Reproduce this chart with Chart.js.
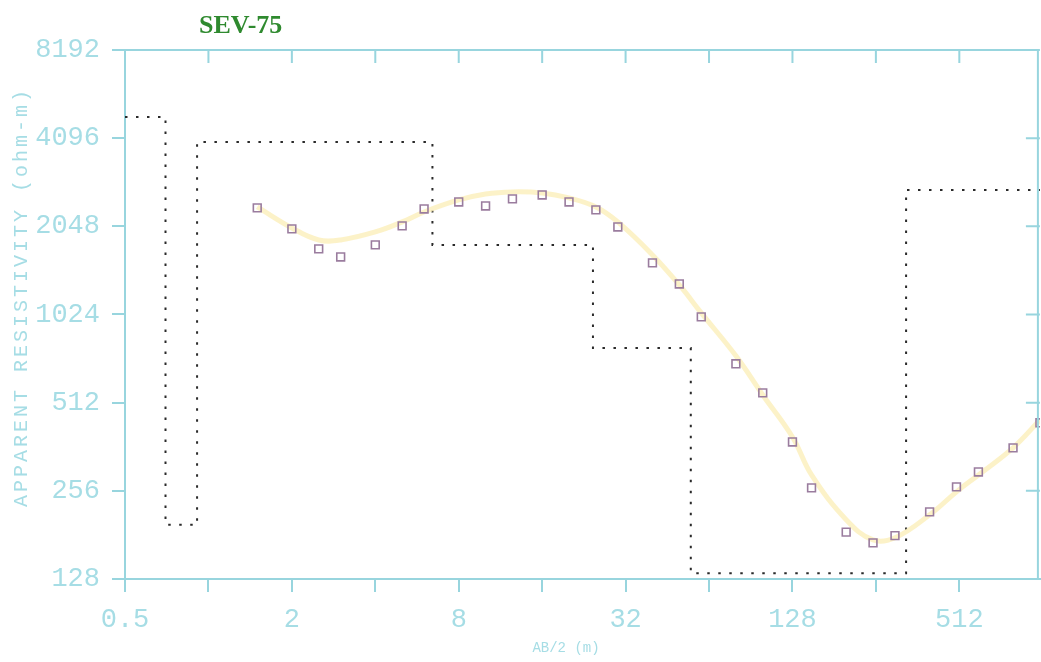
<!DOCTYPE html>
<html>
<head>
<meta charset="utf-8">
<title>SEV-75</title>
<script src="https://cdn.jsdelivr.net/npm/chart.js@4/dist/chart.umd.min.js"></script>
<style>
  html, body { margin: 0; padding: 0; background: #ffffff; overflow: hidden; }
  #wrap { width: 1047px; height: 662px; position: relative; }
  #c { display: block; }
</style>
</head>
<body>
<div id="wrap"><canvas id="c"></canvas></div>
<script>
// Electrode half-spacing AB/2 (m) of each sounding reading
const spacing = [1.5, 2, 2.5, 3, 4, 5, 6, 8, 10, 12.5, 16, 20, 25, 30, 40, 50, 60, 80, 100, 128, 150, 200, 250, 300, 400, 500, 600, 800, 1000];
// Field apparent resistivity (ohm-m)
const measured = [2367, 2007, 1715, 1610, 1770, 2055, 2348, 2481, 2404, 2541, 2621, 2481, 2330, 2038, 1536, 1302, 1005, 695, 553, 376, 262, 185, 170, 180, 217, 264, 297, 359, 437];
// Apparent resistivity computed from the layered model
const fitted = [2385, 2022, 1840, 1840, 1960, 2120, 2293, 2520, 2641, 2684, 2663, 2560, 2385, 2120, 1636, 1292, 1037, 740, 544, 391, 290, 204, 174, 177, 212, 254, 290, 359, 447];
// Layered model: top of each layer (m) and its true resistivity (ohm-m)
const layerTop = [0.5, 0.70, 0.91, 6.43, 24.4, 55, 329, 1000];
const layerRho = [4837, 196, 3974, 1770, 787, 134, 2727, 2727];

// Axis ticks (one per octave) and the labels shown
const xTicks = [0.5, 1, 2, 4, 8, 16, 32, 64, 128, 256, 512];
const xLabels = ['0.5', '2', '8', '32', '128', '512'];
const yTicks = [128, 256, 512, 1024, 2048, 4096, 8192];

const AXIS = '#98d5de';
const LABEL = '#a6dde5';
const MONO = '"Liberation Mono", "DejaVu Sans Mono", monospace';

// Closed frame with inward ticks on the top and right sides, plus titles
const framePlugin = {
  id: 'frame',
  afterDraw(chart) {
    const { ctx, chartArea: a, scales } = chart;
    ctx.save();
    ctx.strokeStyle = AXIS;
    ctx.lineWidth = 2;
    ctx.beginPath();
    ctx.moveTo(a.left, a.top); ctx.lineTo(a.right, a.top);
    ctx.moveTo(a.right - 2, a.top); ctx.lineTo(a.right - 2, a.bottom);
    scales.x.ticks.forEach(t => {
      const px = scales.x.getPixelForValue(t.value);
      ctx.moveTo(px, a.top); ctx.lineTo(px, a.top + 13);
    });
    scales.y.ticks.forEach(t => {
      const py = scales.y.getPixelForValue(t.value);
      ctx.moveTo(a.right, py); ctx.lineTo(a.right - 14, py);
    });
    ctx.stroke();

    // Sounding name
    ctx.fillStyle = '#2f8a2f';
    ctx.font = 'bold 26px "Liberation Serif", "DejaVu Serif", serif';
    ctx.textAlign = 'left';
    ctx.textBaseline = 'alphabetic';
    ctx.fillText('SEV-75', 199, 33);

    // Axis titles
    ctx.fillStyle = LABEL;
    ctx.font = '20px ' + MONO;
    ctx.textAlign = 'center';
    ctx.textBaseline = 'middle';
    ctx.save();
    ctx.translate(22, 297);
    ctx.rotate(-Math.PI / 2);
    ctx.letterSpacing = '3px';
    ctx.fillText('APPARENT RESISTIVITY (ohm-m)', 0, 0);
    ctx.restore();
    ctx.font = '14px ' + MONO;
    ctx.fillText('AB/2 (m)', 566, 648);
    ctx.restore();
  }
};

new Chart(document.getElementById('c'), {
  type: 'scatter',
  data: {
    datasets: [
      {
        label: 'Layered model',
        data: layerTop.map((x, i) => ({ x, y: layerRho[i] })),
        showLine: true,
        stepped: true,
        borderColor: '#2a2a2a',
        borderWidth: 2,
        borderDash: [2.5, 8.5],
        pointRadius: 0,
        order: 3
      },
      {
        label: 'Model response',
        data: spacing.map((x, i) => ({ x, y: fitted[i] })),
        showLine: true,
        tension: 0.4,
        borderColor: 'rgba(252, 240, 190, 0.85)',
        borderWidth: 5,
        pointRadius: 0,
        order: 2
      },
      {
        label: 'Field data',
        data: spacing.map((x, i) => ({ x, y: measured[i] })),
        showLine: false,
        pointStyle: 'rect',
        pointRadius: 5.5,
        borderColor: '#9a7c9e',
        backgroundColor: 'rgba(255,255,255,0)',
        borderWidth: 1.6,
        order: 1
      }
    ]
  },
  options: {
    responsive: true,
    maintainAspectRatio: false,
    animation: false,
    events: [],
    layout: { padding: { top: 50, right: 0, left: 0, bottom: 0 } },
    plugins: { legend: { display: false }, title: { display: false }, tooltip: { enabled: false } },
    scales: {
      x: {
        type: 'logarithmic',
        position: 'bottom',
        min: 0.5,
        max: 1000,
        afterBuildTicks: s => { s.ticks = xTicks.map(v => ({ value: v })); },
        afterFit: s => { s.height = 83; },
        border: { display: true, color: AXIS, width: 2 },
        grid: { drawOnChartArea: false, drawTicks: true, tickLength: 13, color: AXIS, lineWidth: 2 },
        ticks: {
          autoSkip: false,
          maxRotation: 0,
          padding: 12,
          color: LABEL,
          font: { family: MONO, size: 27 },
          callback: v => (xLabels.includes(String(v)) ? String(v) : '')
        }
      },
      y: {
        type: 'logarithmic',
        position: 'left',
        min: 128,
        max: 8192,
        afterBuildTicks: s => { s.ticks = yTicks.map(v => ({ value: v })); },
        afterFit: s => { s.width = 125; },
        border: { display: true, color: AXIS, width: 2 },
        grid: { drawOnChartArea: false, drawTicks: true, tickLength: 13, color: AXIS, lineWidth: 2 },
        ticks: {
          autoSkip: false,
          padding: 12,
          color: LABEL,
          font: { family: MONO, size: 27 },
          callback: v => String(v)
        }
      }
    }
  },
  plugins: [framePlugin]
});
</script>
</body>
</html>
